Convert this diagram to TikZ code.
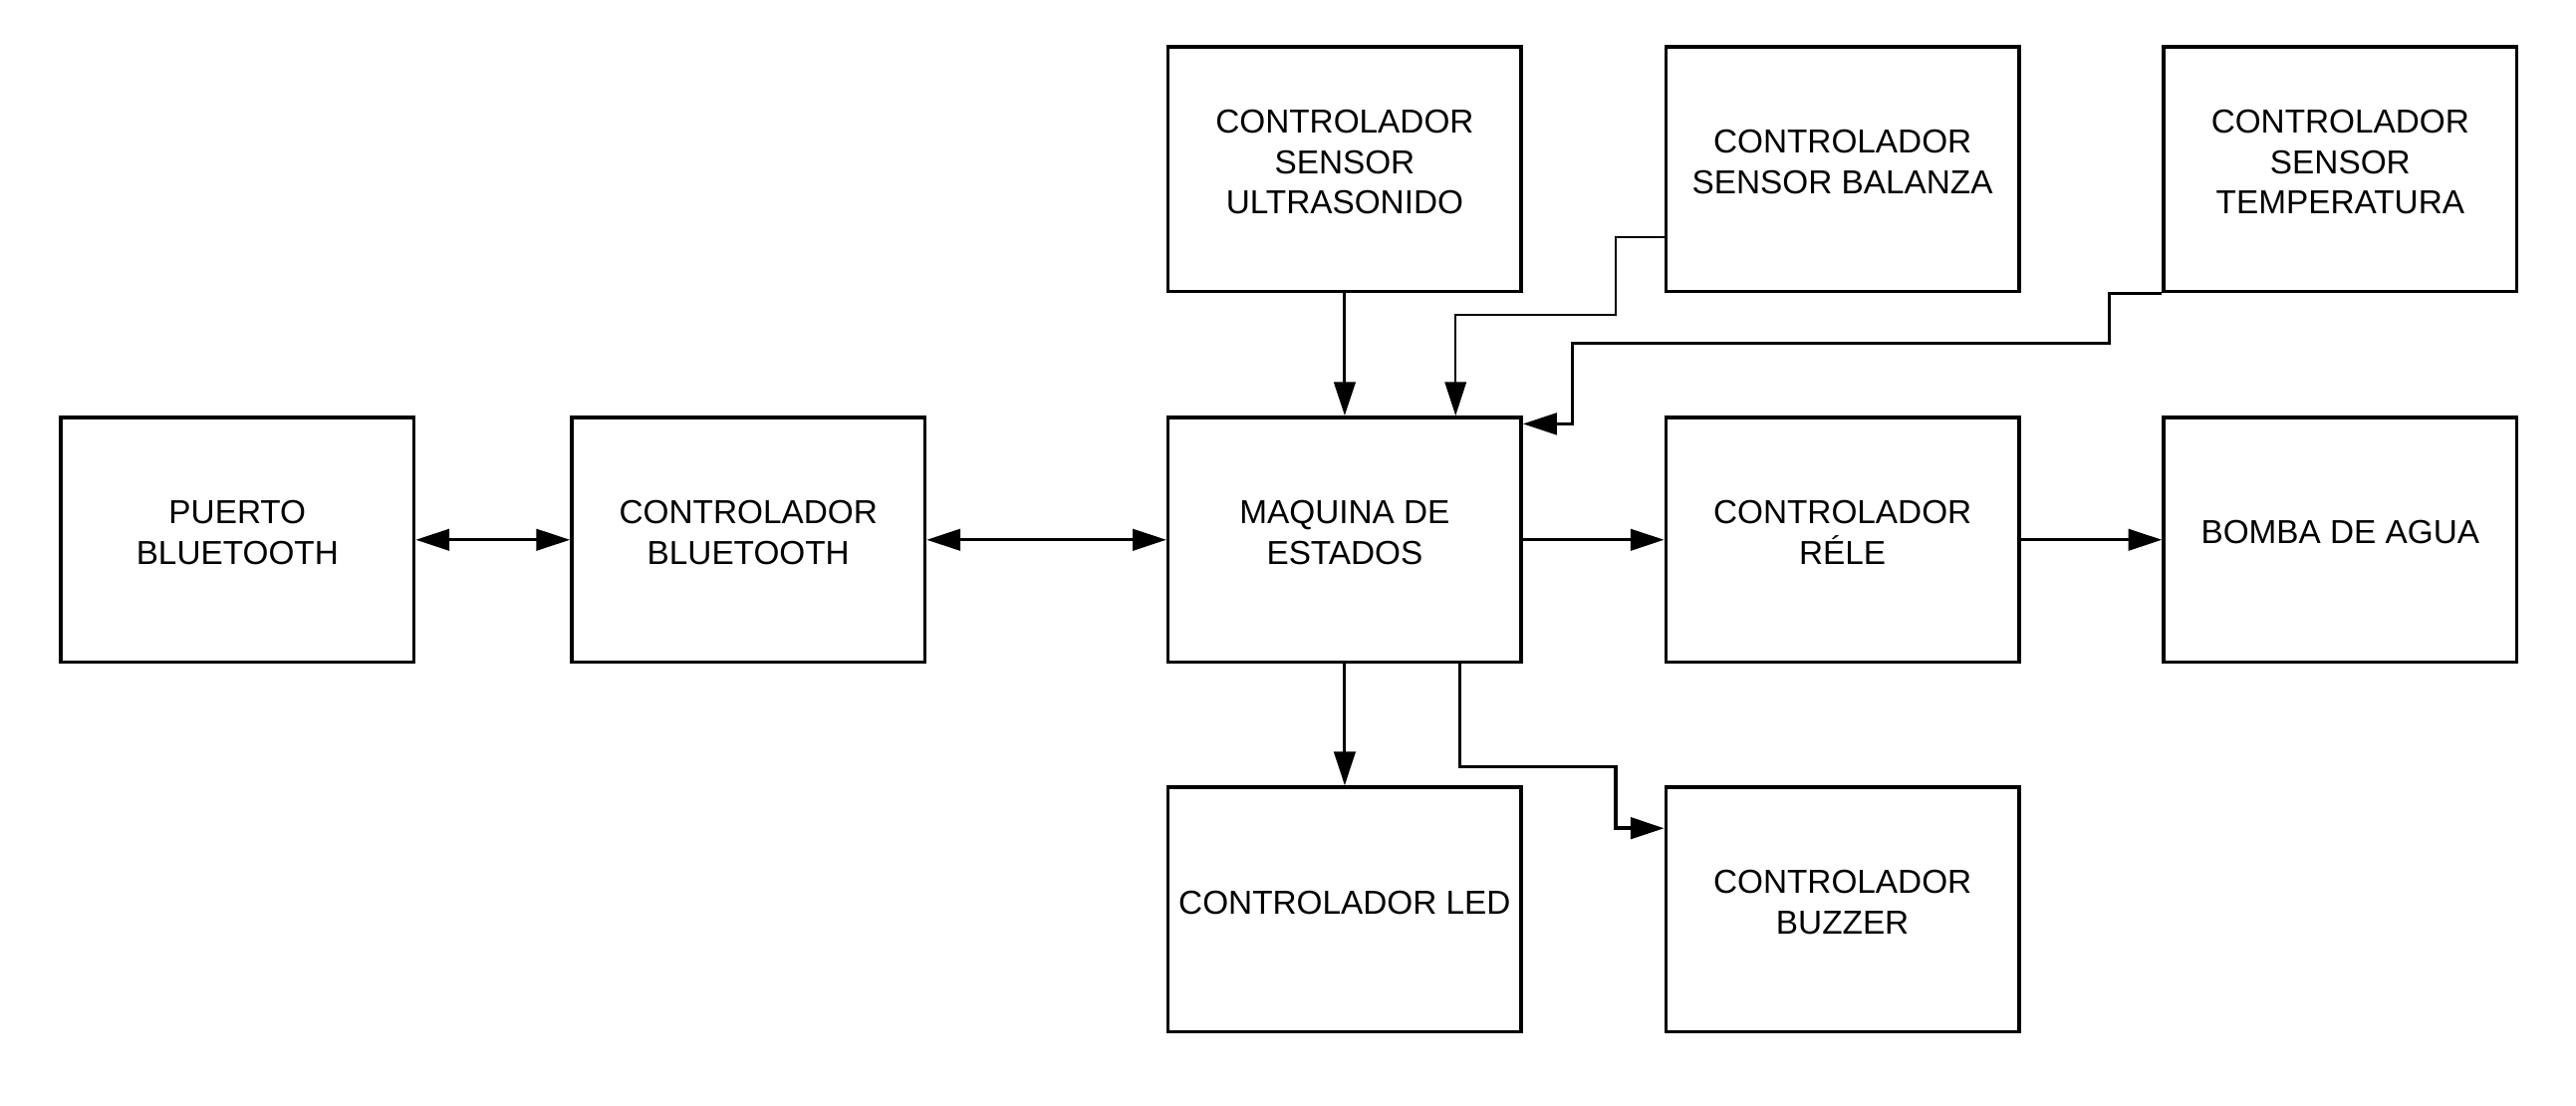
\documentclass[tikz,border=0pt]{standalone}
\usepackage{fontspec}
\setmainfont{Liberation Sans}
\usetikzlibrary{arrows.meta}
\begin{document}
\begin{tikzpicture}[>={Triangle[length=0.41cm,width=0.26cm]}, font=\fontsize{11.5}{13.9}\selectfont, line join=miter,
    bloque/.style={draw, line width=1.2pt, minimum width=4.3cm, minimum height=2.98cm, inner sep=0pt, align=center,
        execute at end node={\rule[-0.18cm]{0pt}{0pt}}},
    flecha/.style={->, line width=1pt}]
            \def\fa{-2.06} \def\fb{-6.57} \def\fc{-11.07}
            \useasboundingbox (0,0) rectangle (31.36,-13.46);
            % fila central
            \node[bloque] (pbt) at (2.89,\fb) {PUERTO\\BLUETOOTH};
            \node[bloque] (cbt) at (9.11,\fb) {CONTROLADOR\\BLUETOOTH};
            \node[bloque] (maq) at (16.37,\fb) {MAQUINA DE\\ESTADOS};
            \node[bloque] (rele) at (22.43,\fb) {CONTROLADOR\\RÉLE};
            \node[bloque] (bomba) at (28.49,\fb) {BOMBA DE AGUA};
            % sensores
            \node[bloque] (ultra) at (16.37,\fa) {CONTROLADOR\\SENSOR\\ULTRASONIDO};
            \node[bloque] (bal) at (22.43,\fa) {CONTROLADOR\\SENSOR BALANZA};
            \node[bloque] (temp) at (28.49,\fa) {CONTROLADOR\\SENSOR\\TEMPERATURA};
            % salidas
            \node[bloque] (led) at (16.37,\fc) {CONTROLADOR LED};
            \node[bloque] (buz) at (22.43,\fc) {CONTROLADOR\\BUZZER};
            %\draw[help lines] (0,0) grid (31,-13);
            \draw[flecha,<->] (pbt.east)--(cbt.west);
            \draw[flecha,<->] (cbt.east)--(maq.west);
            \draw[flecha] (maq.east)--(rele.west);
            \draw[flecha] (rele.east)--(bomba.west);
            \draw[flecha] (ultra.south)--(maq.north);
            \draw[flecha] (maq.south)--(led.north);
            \draw[flecha,line width=0.7pt] ([yshift=-0.83cm]bal.west) -| (19.67,-3.83) -| ([xshift=1.35cm]maq.north);
            \draw[flecha,line width=1.2pt] (temp.south west) -- ++(-0.64,0) |- (19.14,-4.18) |- ([yshift=-0.1cm]maq.north east);
            \draw[flecha,line width=1.2pt] ([xshift=1.4cm]maq.south) |- (19.67,-9.33) |- ([yshift=0.99cm]buz.west);
    \end{tikzpicture}
\end{document}
